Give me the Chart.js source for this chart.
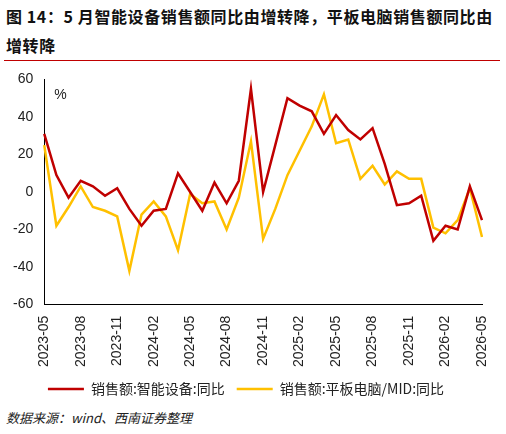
<!DOCTYPE html>
<html><head><meta charset="utf-8">
<script src="https://cdn.jsdelivr.net/npm/chart.js@4"></script>
<style>
body{margin:0;width:506px;height:434px;background:#fff;font-family:"Noto Sans CJK SC",sans-serif;position:relative;overflow:hidden}
#title{position:absolute;left:6px;top:2px;width:496px;font-size:16px;font-weight:bold;line-height:29px;color:#111;letter-spacing:0.6px}
#rule{position:absolute;left:4px;top:60px;width:496px;height:1px;background:#c00000}
#wrap{position:absolute;left:0;top:68px;width:506px;height:338px}
#src{position:absolute;left:6px;top:408px;font-size:13px;font-style:italic;color:#222}
</style></head><body>
<div id="title">图 14：5 月智能设备销售额同比由增转降，平板电脑销售额同比由增转降</div>
<div id="rule"></div>
<div id="wrap"><canvas id="c"></canvas></div>
<div id="src">数据来源：wind、西南证券整理</div>
<script>
var labels = [];
for (let y = 2023; y <= 2026; y++) {
  for (let m = 1; m <= 12; m++) {
    if ((y == 2023 && m < 5) || (y == 2026 && m > 5)) continue;
    labels.push(y + "-" + (m < 10 ? "0" + m : m));
  }
}
var smartDevices = [31,9,-3,6,3,-2,2,-9,
  -18,-10,-9,10,0,-10,5,-6,6,55,0,25,
  50,46,43,31,41,33,28,34,15,-7,-6,-2,
  -26,-18,-20,3,-15];
var tablets = [25,-18,-8,3,-8,-10,-13,-42,
  -12,-5,-13,-31,-1,-6,-5,-20,-3,27,-25,-9,
  9,22,35,52,26,28,7,14,4,11,7,7,
  -19,-22,-15,2,-24];

var pctLabel = {
  id: 'pct',
  afterDraw(chart) {
    var c = chart.ctx, a = chart.chartArea;
    c.save(); c.font = '14px "Liberation Sans"'; c.fillStyle = '#222';
    c.fillText('%', a.left + 10, a.top + 16); c.restore();
  }
};

new Chart(document.getElementById('c'), {
  type: 'line',
  data: {
    labels: labels,
    datasets: [
      {label: '销售额:智能设备:同比', data: smartDevices, borderColor: '#c00000', borderWidth: 2.5, pointRadius: 0, tension: 0},
      {label: '销售额:平板电脑/MID:同比', data: tablets, borderColor: '#ffc000', borderWidth: 2.5, pointRadius: 0, tension: 0}
    ]
  },
  options: {
    responsive: true, maintainAspectRatio: false, animation: false,
    layout: {padding: {left: 10, right: 24, top: 4}},
    plugins: {
      legend: {position: 'bottom', labels: {boxWidth: 36, boxHeight: 0, color: '#222', font: {size: 14, family: '"Noto Sans CJK SC"'}, padding: 12}},
      tooltip: {enabled: false}
    },
    scales: {
      x: {
        grid: {display: false},
        border: {color: '#000'},
        ticks: {
          autoSkip: false, maxRotation: 90, minRotation: 90, color: '#222',
          font: {size: 14, family: '"Liberation Sans"'},
          callback: function (v, i) { return i % 3 == 0 ? labels[i] : ''; }
        }
      },
      y: {
        min: -60, max: 60,
        grid: {display: false},
        border: {color: '#000'},
        ticks: {stepSize: 20, color: '#222', font: {size: 14, family: '"Liberation Sans"'}}
      }
    }
  },
  plugins: [pctLabel]
});
</script>
</body></html>
